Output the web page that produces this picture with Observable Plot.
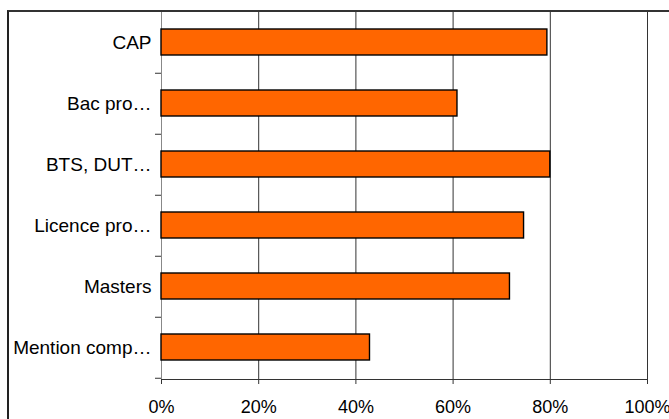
<!DOCTYPE html>
<html>
<head>
<meta charset="utf-8">
<script src="https://cdn.jsdelivr.net/npm/d3@7"></script>
<script src="https://cdn.jsdelivr.net/npm/@observablehq/plot@0.6"></script>
<style>
  html, body { margin: 0; padding: 0; background: #fff; overflow: hidden; }
  #wrap { position: relative; width: 669px; height: 419px; overflow: hidden; }
  #border { position: absolute; left: 7px; top: 10px; width: 720px; height: 520px;
            border-left: 2px solid #222; border-top: 2px solid #333; pointer-events: none; box-sizing: border-box; }
</style>
</head>
<body>
<div id="wrap"><div id="border"></div></div>
<script>
const categories = ["CAP", "Bac pro…", "BTS, DUT…", "Licence pro…", "Masters", "Mention comp…"];
const values = [79.4, 60.9, 80, 74.6, 71.7, 42.9];
const xTicks = [0, 20, 40, 60, 80, 100];

const data = categories.map((c, i) => ({category: c, value: values[i]}));

const W = 669, H = 419, mt = 10, mb = 40, ml = 161, mr = 22;
const step = (H - mt - mb) / categories.length;

const chart = Plot.plot({
  width: W, height: H,
  marginTop: mt, marginBottom: mb, marginLeft: ml, marginRight: mr,
  style: {fontFamily: "'Liberation Sans', Arial, sans-serif", background: "white", color: "black"},
  x: {domain: [0, 100], label: null},
  y: {domain: categories, paddingInner: 0.58, paddingOuter: 0.29, align: 0.5, label: null},
  marks: [
    Plot.gridX({ticks: xTicks, stroke: "#333", strokeOpacity: 1}),
    Plot.frame({stroke: "#333"}),
    Plot.ruleX([0], {stroke: "#888"}),
    Plot.barX(data, {x: "value", y: "category", fill: "#FF6600", stroke: "#000", strokeWidth: 1.4}),
    Plot.axisX({ticks: xTicks, tickFormat: d => d + "%", tickSize: 5, tickPadding: 16, fontSize: 18, stroke: "#333", label: null}),
    Plot.axisY({tickSize: 0, tickPadding: 10, fontSize: 19, label: null}),
    Plot.axisY({tickSize: 6, tickFormat: () => "", dy: step / 2, stroke: "#333", label: null})
  ]
});
document.getElementById("wrap").prepend(chart);
</script>
</body>
</html>
